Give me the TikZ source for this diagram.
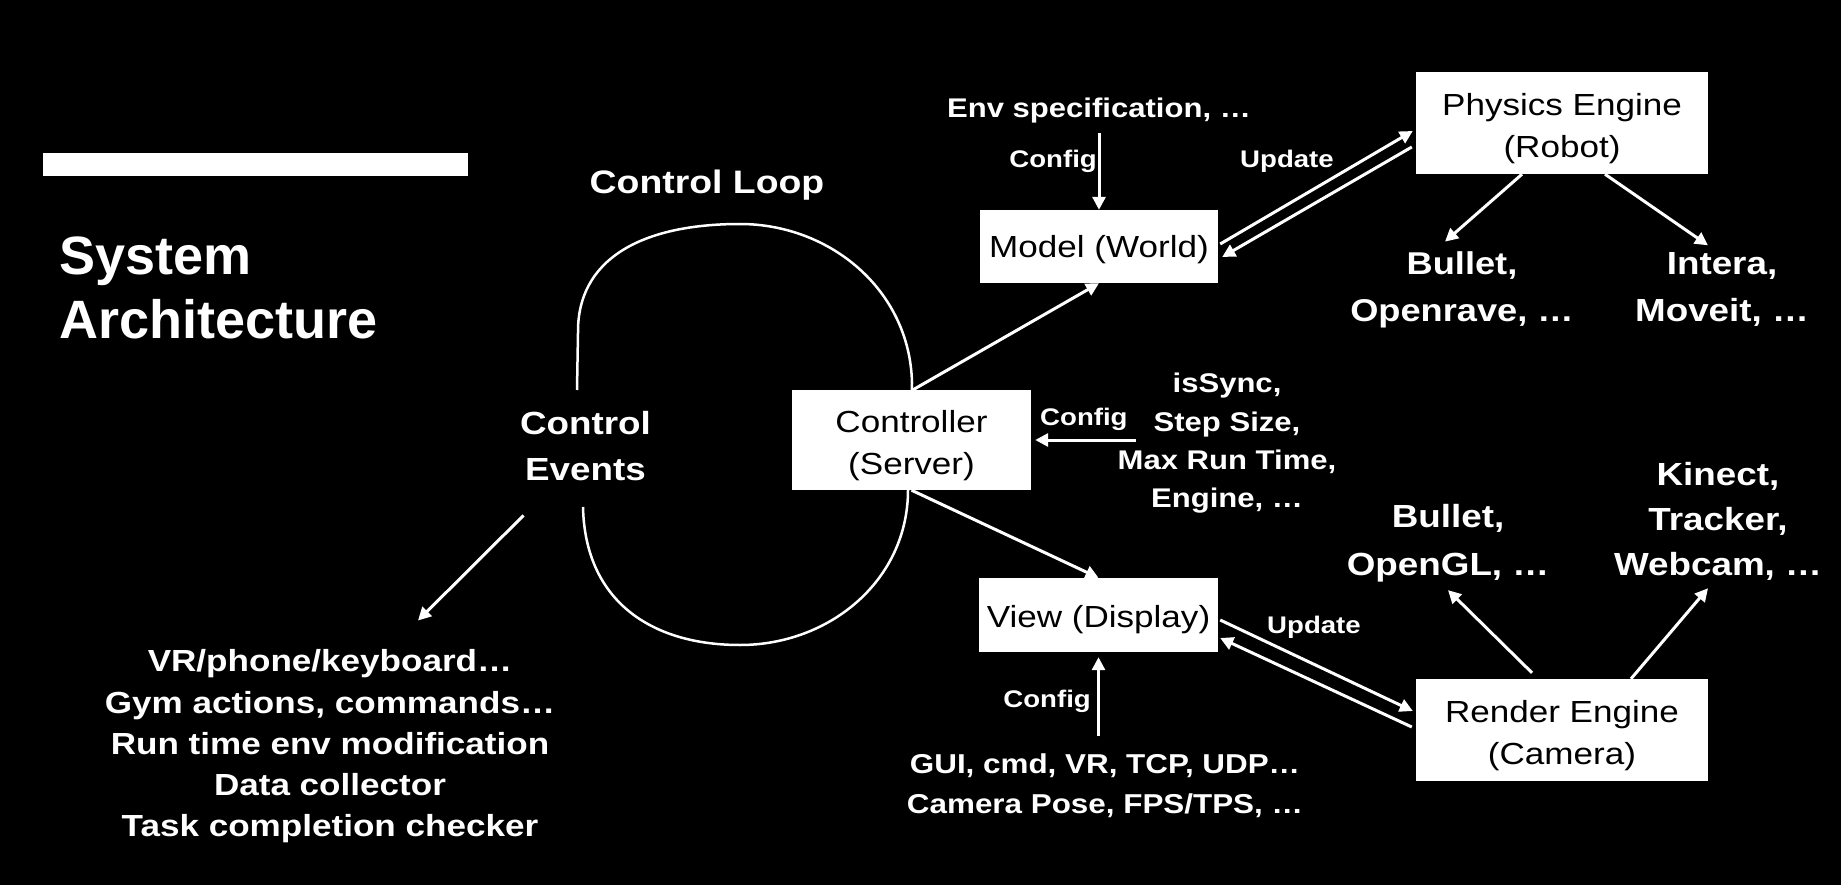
\documentclass[tikz,border=0pt]{standalone}
\usepackage{fontspec}
\setmainfont{Liberation Sans}
\newfontfamily\wf[FakeStretch=1.15]{Liberation Sans}
\usetikzlibrary{arrows.meta,calc}
\newcommand\upstrut[1]{\rule{0pt}{#1}}
\begin{document}
\begin{tikzpicture}[x=1pt,y=-1pt,
  arr/.style={draw=white, line width=3pt, -{Triangle[length=13pt,width=13pt]}},
  wbox/.style={fill=white, text=black, inner sep=0pt, align=center, font=\wf\fontsize{30.5}{42}\selectfont},
  lbl/.style={text=white, inner sep=0pt, font=\wf\bfseries\fontsize{24}{28}\selectfont},
  wtxt/.style={text=white, inner sep=0pt, align=center},
]
\fill[black] (0,0) rectangle (1841,885);
\useasboundingbox (0,0) rectangle (1841,885);

% title
\fill[white] (43,153) rectangle (468,176);
\node[wtxt, anchor=west, align=left, font=\bfseries\fontsize{54}{64}\selectfont] (title) at (59,288) {System\\Architecture};

% control loop
\draw[white, line width=2.5pt] (577,390) -- (578,333) .. controls (577,260) and (640,224) .. (740,224) .. controls (830,224) and (910,290) .. (912,383) -- (908,490) .. controls (908,580) and (830,645) .. (740,645) .. controls (650,645) and (585,600) .. (583,507);
\node[wtxt, anchor=base, font=\wf\bfseries\fontsize{32.5}{38}\selectfont] (loop) at (707,194) {Control Loop};
\node[wtxt, font=\wf\bfseries\fontsize{32}{46}\selectfont] (events) at (585.5,446.5) {Control\\Events};

% boxes
\node[wbox, minimum width=238pt, minimum height=73pt] (model) at (1099,246.5) {\upstrut{28pt}Model (World)};
\node[wbox, minimum width=292pt, minimum height=102pt] (phys) at (1562,123) {\upstrut{32.5pt}Physics Engine\\(Robot)};
\node[wbox, minimum width=239pt, minimum height=100pt] (ctrl) at (911.5,440) {\upstrut{32.5pt}Controller\\(Server)};
\node[wbox, minimum width=239pt, minimum height=74pt] (view) at (1098.5,615) {\upstrut{32pt}View (Display)};
\node[wbox, minimum width=292pt, minimum height=102pt] (render) at (1562,730) {\upstrut{32.5pt}Render Engine\\(Camera)};

% texts
\node[wtxt, anchor=base, font=\wf\bfseries\fontsize{27}{32}\selectfont] (env) at (1099,118) {Env specification, …};
\node[wtxt, font=\wf\bfseries\fontsize{31.5}{47}\selectfont] (bul1) at (1462,290) {Bullet,\\Openrave, …};
\node[wtxt, font=\wf\bfseries\fontsize{32}{47}\selectfont] (intera) at (1722,289.5) {Intera,\\Moveit, …};
\node[wtxt, font=\wf\bfseries\fontsize{27}{38.3}\selectfont] (params) at (1227,443.5) {isSync,\\Step Size,\\Max Run Time,\\Engine, …};
\node[wtxt, font=\wf\bfseries\fontsize{32}{48}\selectfont] (bul2) at (1448,543) {Bullet,\\OpenGL, …};
\node[wtxt, font=\wf\bfseries\fontsize{32}{45}\selectfont] (kinect) at (1718,521) {Kinect,\\Tracker,\\Webcam, …};
\node[wtxt, font=\wf\bfseries\fontsize{27.3}{40}\selectfont] (gui) at (1105,785.5) {GUI, cmd, VR, TCP, UDP…\\Camera Pose, FPS/TPS, …};
\node[wtxt, font=\wf\bfseries\fontsize{30.5}{41.3}\selectfont] (list) at (330,746.5) {VR/phone/keyboard…\\Gym actions, commands…\\Run time env modification\\Data collector\\Task completion checker};

% labels
\node[lbl, anchor=base east] (cfg1) at (1097,168) {Config};
\node[lbl, anchor=base west] (cfg2) at (1040,425) {Config};
\node[lbl, anchor=base east] (cfg3) at (1091,707) {Config};
\node[lbl, anchor=base west] (upd1) at (1240,168) {Update};
\node[lbl, anchor=base west] (upd2) at (1267,633) {Update};

% connectors
\draw[arr] ([xshift=1.5pt]ctrl.north) -- (model.south);
\draw[arr] (ctrl.south) -- (view.north);
\draw[arr] ([yshift=-9pt]env.south) -- (model.north);
\draw[arr] ([shift={(2pt,2.5pt)}]model.east) -- ([shift={(-3pt,-8pt)}]phys.west);
\draw[arr] ([shift={(-4pt,-24pt)}]phys.west) -- ([shift={(4pt,-10.5pt)}]model.east);
\draw[arr] ([xshift=-40pt]phys.south) -- ([shift={(-17pt,10pt)}]bul1.north);
\draw[arr] ([xshift=43pt]phys.south) -- ([shift={(-14pt,7pt)}]intera.north);
\draw[arr] ([shift={(-30pt,6pt)}]render.north) -- ([yshift=-8pt]bul2.south);
\draw[arr] ([xshift=69pt]render.north) -- ([shift={(-10pt,-8pt)}]kinect.south);
\draw[arr] ([shift={(2pt,-5pt)}]view.east) -- ([shift={(-3pt,19pt)}]render.west);
\draw[arr] ([shift={(-4pt,3pt)}]render.west) -- ([shift={(2pt,-23pt)}]view.east);
\draw[arr] ([shift={(-6.5pt,17pt)}]gui.north) -- ([yshift=-5pt]view.south);
\draw[arr] ([shift={(18pt,3.5pt)}]params.west) -- ([xshift=4pt]ctrl.east);
\draw[arr] ([shift={(-62pt,-34pt)}]events.south) -- ([shift={(88pt,29pt)}]list.north);
\end{tikzpicture}
\end{document}
